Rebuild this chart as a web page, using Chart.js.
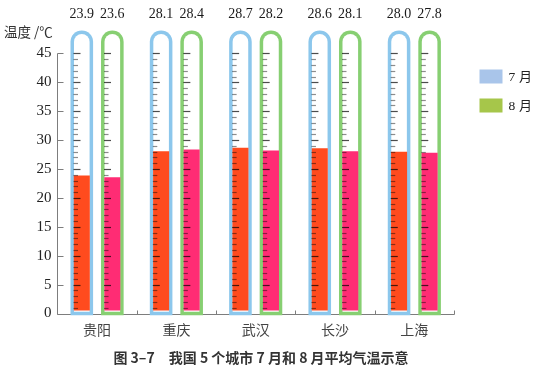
<!DOCTYPE html>
<html><head><meta charset="utf-8">
<script src="https://cdn.jsdelivr.net/npm/chart.js@4.4.1/dist/chart.umd.min.js"></script>
<style>html,body{margin:0;padding:0;background:#fff;}#wrap{width:538px;height:377px;}</style>
</head><body><div id="wrap"><canvas id="c" width="538" height="377"></canvas></div>
<script>
// ---- data ----
const CITIES = ['贵阳', '重庆', '武汉', '长沙', '上海'];
const JULY = [23.9, 28.1, 28.7, 28.6, 28.0];
const AUGUST = [23.6, 28.4, 28.2, 28.1, 27.8];
const SERIES_LABELS = ['7 月', '8 月'];
const Y_TICKS = [0, 5, 10, 15, 20, 25, 30, 35, 40, 45];
const AXIS_TITLE = '温度 /℃';
const CHART_TITLE = '图 3–7　我国 5 个城市 7 月和 8 月平均气温示意';

// ---- style constants ----
const TUBE_TOP = 49;       // top of the glass tube (decoration)
const TUBE_BASE = -0.3;
const FILL_BASE = 0.5;
const TUBE_COLORS = ['#8CC7EC', '#87CF72'];
const FILL_COLORS = ['#FF4B1E', '#FF2C74'];
const LEGEND_COLORS = ['#A9C5EA', '#A6C64A'];
const SERIF = "'Liberation Serif', 'DejaVu Serif', serif";
const CJK = "'Noto Sans CJK SC', 'Noto Sans', sans-serif";
const TUBE_BW = 3.5;
const FILL_BP = 0.525;
const TUBE_BP = 0.74;

function tubePath(ctx, l, r, top, bottom) {
  const rad = (r - l) / 2;
  ctx.beginPath();
  ctx.moveTo(l, bottom);
  ctx.lineTo(l, top + rad);
  ctx.arc(l + rad, top + rad, rad, Math.PI, 0);
  ctx.lineTo(r, bottom);
  ctx.closePath();
}

const decor = {
  id: 'decor',
  beforeDatasetsDraw(chart) {
    const { ctx, chartArea: a, scales: { x, y } } = chart;
    ctx.save();
    ctx.strokeStyle = '#7d7d7d';
    ctx.lineWidth = 1;
    const ax = Math.round(a.left) + 0.5;
    const by = Math.round(y.getPixelForValue(0)) + 0.5;
    const ty = Math.round(y.getPixelForValue(45)) + 0.5;
    ctx.beginPath();
    ctx.moveTo(ax, ty); ctx.lineTo(ax, by);
    ctx.moveTo(ax, by); ctx.lineTo(Math.round(a.right) + 0.5, by);
    Y_TICKS.forEach(v => {
      const py = Math.round(y.getPixelForValue(v)) + 0.5;
      ctx.moveTo(ax, py); ctx.lineTo(ax + 6, py);
    });
    const step = x.getPixelForValue(1) - x.getPixelForValue(0);
    for (let i = 0; i < CITIES.length; i++) {
      const px = Math.round(x.getPixelForValue(i) + step / 2) + 0.5;
      ctx.moveTo(px, by); ctx.lineTo(px, by - 4);
    }
    ctx.stroke();
    // glass tubes around each bar
    const top = y.getPixelForValue(TUBE_TOP);
    const bottom = y.getPixelForValue(TUBE_BASE);
    [0, 1].forEach(d => {
      chart.getDatasetMeta(d).data.forEach(el => {
        const w = el.width / FILL_BP * TUBE_BP;
        const l = el.x - w / 2, r = el.x + w / 2;
        ctx.fillStyle = TUBE_COLORS[d];
        tubePath(ctx, l, r, top, bottom);
        ctx.fill();
        ctx.fillStyle = '#ffffff';
        tubePath(ctx, l + TUBE_BW, r - TUBE_BW, top + TUBE_BW, bottom - TUBE_BW);
        ctx.fill();
      });
    });
    ctx.restore();
  },
  afterDatasetsDraw(chart) {
    const { ctx, scales: { y } } = chart;
    ctx.save();
    const series = [JULY, AUGUST];
    [0, 1].forEach(d => {
      const meta = chart.getDatasetMeta(d);
      meta.data.forEach((el, i) => {
        const w = el.width / FILL_BP * TUBE_BP;
        const left = el.x - w / 2 + TUBE_BW - 0.5;
        ctx.lineWidth = 1.2;
        for (let v = 1; v <= 45; v++) {
          const py = Math.round(y.getPixelForValue(v)) + 0.5;
          const len = v % 5 === 0 ? 7 : 4.5;
          ctx.strokeStyle = v % 5 === 0 ? 'rgba(0,0,0,0.7)' : 'rgba(0,0,0,0.45)';
          ctx.beginPath();
          ctx.moveTo(left, py); ctx.lineTo(left + len, py);
          ctx.stroke();
        }
        ctx.fillStyle = '#1a1a1a';
        ctx.font = '14px ' + SERIF;
        ctx.textAlign = 'center';
        ctx.textBaseline = 'middle';
        ctx.fillText(series[d][i].toFixed(1), el.x, 14);
      });
    });
    ctx.restore();
  },
  afterDraw(chart) {
    const { ctx } = chart;
    ctx.save();
    ctx.fillStyle = '#333';
    ctx.textBaseline = 'middle';
    ctx.textAlign = 'left';
    ctx.font = '13.5px ' + CJK;
    ctx.fillText(AXIS_TITLE, 4, 32);
    LEGEND_COLORS.forEach((c, i) => {
      const ly = 69.5 + i * 29;
      ctx.fillStyle = c;
      ctx.fillRect(479.5, ly, 23, 14);
      ctx.fillStyle = '#222';
      ctx.font = '13.5px ' + SERIF;
      ctx.fillText(SERIES_LABELS[i].split(' ')[0], 508.5, ly + 7.5);
      ctx.font = '13px ' + CJK;
      ctx.fillText(SERIES_LABELS[i].split(' ')[1], 519, ly + 7);
    });
    ctx.fillStyle = '#333';
    ctx.textAlign = 'center';
    ctx.font = '600 14px ' + CJK;
    ctx.fillText(CHART_TITLE, 261, 357.5);
    ctx.restore();
  }
};

new Chart(document.getElementById('c'), {
  type: 'bar',
  data: {
    labels: CITIES,
    datasets: [
      { label: SERIES_LABELS[0], data: JULY, base: FILL_BASE, backgroundColor: FILL_COLORS[0],
        borderWidth: 0, barPercentage: FILL_BP, categoryPercentage: 0.77, inflateAmount: 0, clip: false },
      { label: SERIES_LABELS[1], data: AUGUST, base: FILL_BASE, backgroundColor: FILL_COLORS[1],
        borderWidth: 0, barPercentage: FILL_BP, categoryPercentage: 0.77, inflateAmount: 0, clip: false }
    ]
  },
  options: {
    responsive: false,
    devicePixelRatio: 1,
    animation: false,
    layout: { padding: { top: 24.6, right: 84, left: 0, bottom: 0 } },
    plugins: {
      legend: { display: false },
      tooltip: { enabled: false },
      title: { display: false }
    },
    scales: {
      x: {
        type: 'category',
        grid: { display: false, drawTicks: false },
        border: { display: false },
        ticks: { color: '#444', font: { family: CJK, size: 14 }, padding: 8 },
        afterFit: s => { s.height = 63.5; }
      },
      y: {
        min: 0, max: 50,
        grid: { display: false, drawTicks: false },
        border: { display: false },
        afterBuildTicks: s => { s.ticks = Y_TICKS.map(v => ({ value: v })); },
        ticks: { color: '#222', font: { family: SERIF, size: 15 }, padding: 6 },
        afterFit: s => { s.width = 57.4; }
      }
    }
  },
  plugins: [decor]
});
</script>
</body></html>
